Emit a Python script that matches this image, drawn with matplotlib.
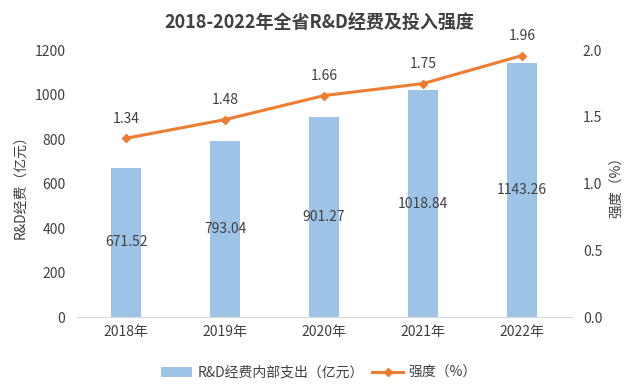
import matplotlib.pyplot as plt
import numpy as np

plt.rcParams['font.family'] = ['Noto Sans CJK SC', 'DejaVu Sans']

# Data
years = ['2018年', '2019年', '2020年', '2021年', '2022年']
rd_spending = [671.52, 793.04, 901.27, 1018.84, 1143.26]
intensity = [1.34, 1.48, 1.66, 1.75, 1.96]

text_color = '#404040'
bar_color = '#9DC3E6'
line_color = '#ED7D31'

fig = plt.figure(figsize=(6.38, 3.92), dpi=100)
ax = fig.add_axes([0.12, 0.191, 0.776, 0.681])
ax2 = ax.twinx()

x = np.arange(len(years))
bars = ax.bar(x, rd_spending, width=0.31, color=bar_color, label='R&D经费内部支出（亿元）', zorder=2)
line, = ax2.plot(x, intensity, color=line_color, linewidth=2.2, marker='D', markersize=4,
                 label='强度（%）', zorder=3)

# Bar value labels, centered inside the bars
for xi, v in zip(x, rd_spending):
    ax.text(xi, v / 2, f'{v:.2f}', ha='center', va='center', fontsize=10, color=text_color)

# Line value labels above points
for xi, v in zip(x, intensity):
    ax2.annotate(f'{v:.2f}', (xi, v), xytext=(0, 9), textcoords='offset points',
                 ha='center', va='bottom', fontsize=10, color=text_color)

ax.set_xlim(-0.5, 4.5)
ax.set_ylim(0, 1200)
ax.set_yticks(range(0, 1201, 200))
ax2.set_ylim(0, 2.0)
ax2.set_yticks([0.0, 0.5, 1.0, 1.5, 2.0])
ax2.set_yticklabels(['0.0', '0.5', '1.0', '1.5', '2.0'])

ax.set_xticks(x)
ax.set_xticklabels(years)

for a in (ax, ax2):
    for s in ['top', 'left', 'right']:
        a.spines[s].set_visible(False)
    a.spines['bottom'].set_color('#D9D9D9')
    a.tick_params(axis='both', length=0, labelsize=10, colors=text_color, pad=8)

ax.tick_params(axis='x', pad=6)

ax.set_ylabel('R&D经费（亿元）', fontsize=10, color=text_color, labelpad=5)
ax2.set_ylabel('强度（%）', fontsize=10, color=text_color, rotation=90, labelpad=6)

fig.suptitle('2018-2022年全省R&D经费及投入强度', fontsize=13, fontweight='bold',
             color=text_color, y=0.965)

fig.legend(handles=[bars, line], loc='lower center', bbox_to_anchor=(0.5, 0.0), ncol=2,
           frameon=False, fontsize=10, labelcolor=text_color, handlelength=2.2,
           columnspacing=0.6, handletextpad=0.4)

fig.savefig('out.png', dpi=100)
